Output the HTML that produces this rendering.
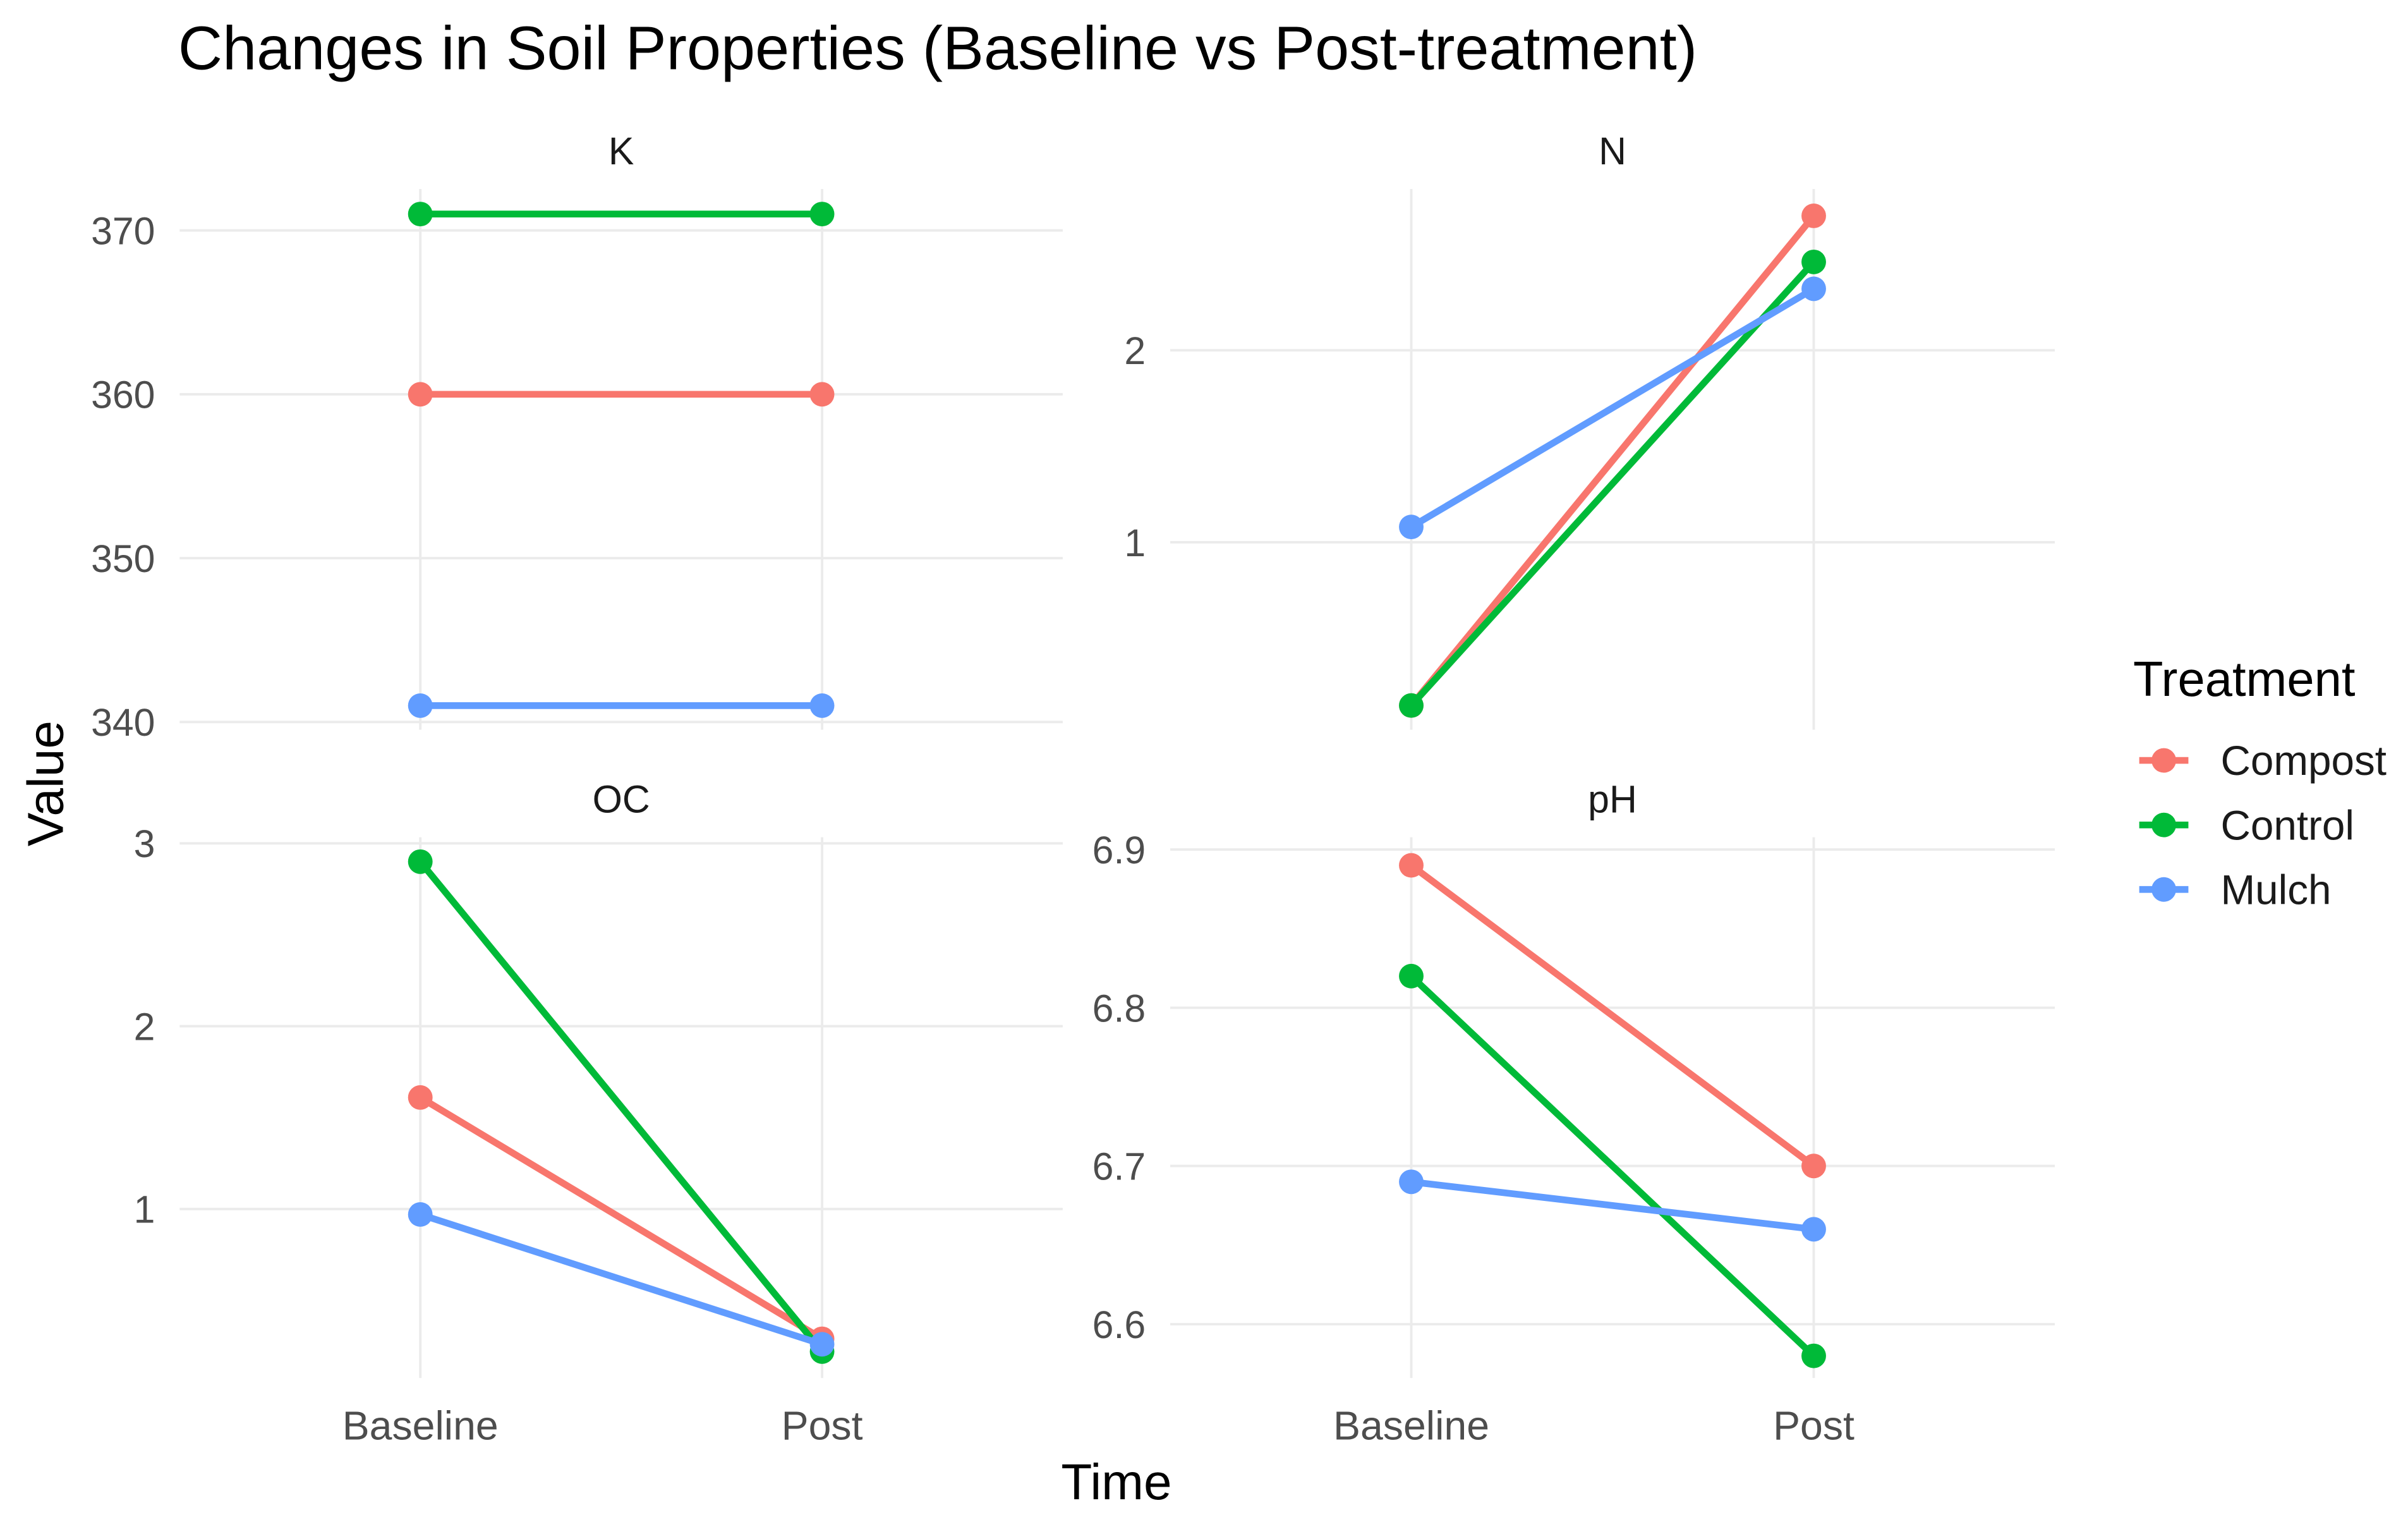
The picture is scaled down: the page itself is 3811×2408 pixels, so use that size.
<!DOCTYPE html>
<html><head><meta charset="utf-8"><style>
html,body{margin:0;padding:0;background:#fff;}
svg{display:block;font-family:"Liberation Sans",Arial,sans-serif;}
</style></head><body>
<svg id="chart" width="3811" height="2408" viewBox="0 0 1568 990.75" xmlns="http://www.w3.org/2000/svg">
<rect width="1568" height="991" fill="#fff"/>
<text x="116" y="45" font-size="40" fill="#000">Changes in Soil Properties (Baseline vs Post-treatment)</text>
<text x="727" y="976" font-size="33" text-anchor="middle" fill="#000">Time</text>
<text transform="translate(41,510) rotate(-90)" font-size="33" text-anchor="middle" fill="#000">Value</text>
<g id="panels"></g>
<g>
<text x="1389" y="453" font-size="32" fill="#000">Treatment</text>
<g id="legend-items"></g>
</g>
</svg>
<script>
const categories = ["Baseline", "Post"];
const treatments = ["Compost", "Control", "Mulch"];
const colors = ["#F8766D", "#00BA38", "#619CFF"];
const facets = ["K", "N", "OC", "pH"];
const kBaseline = [360, 371, 341];
const kPost = [360, 371, 341];
const nBaseline = [0.15, 0.15, 1.08];
const nPost = [2.70, 2.46, 2.32];
const ocBaseline = [1.61, 2.90, 0.97];
const ocPost = [0.29, 0.22, 0.26];
const phBaseline = [6.89, 6.82, 6.69];
const phPost = [6.70, 6.58, 6.66];
const kTicks = [340, 350, 360, 370];
const nTicks = [1, 2];
const ocTicks = [1, 2, 3];
const phTicks = [6.6, 6.7, 6.8, 6.9];

const NS = "http://www.w3.org/2000/svg";
function mk(tag, attrs, parent) {
  const e = document.createElementNS(NS, tag);
  for (const k in attrs) e.setAttribute(k, attrs[k]);
  parent.appendChild(e);
  return e;
}
const layout = [
  {x0:117,x1:692,y0:123,y1:475,ref:[370,150,340,470], ticks:kTicks, base:kBaseline, post:kPost, fmt:v=>String(v)},
  {x0:762,x1:1338,y0:123,y1:475,ref:[2,228,1,353], ticks:nTicks, base:nBaseline, post:nPost, fmt:v=>String(v)},
  {x0:117,x1:692,y0:545,y1:897,ref:[3,549,1,787], ticks:ocTicks, base:ocBaseline, post:ocPost, fmt:v=>String(v)},
  {x0:762,x1:1338,y0:545,y1:897,ref:[6.9,553,6.6,862], ticks:phTicks, base:phBaseline, post:phPost, fmt:v=>v.toFixed(1)}
];
const panels = document.getElementById('panels');
layout.forEach((p, i) => {
  const g = mk('g', {}, panels);
  
  
  const [v1, py1, v2, py2] = p.ref;
  const yScale = v => py1 + (v - v1) * (py2 - py1) / (v2 - v1);
  const w = p.x1 - p.x0;
  const xScale = c => p.x0 + w * (c === 0 ? 0.2725 : 0.7275);
  const step = p.ticks[1] - p.ticks[0];
  for (let t = p.ticks[0] - step * 1.5; t <= p.ticks[p.ticks.length - 1] + step * 1.5; t += step) {
    const y = yScale(t + step / 2);
    if (y >= p.y0 && y <= p.y1) {
      const l = mk('line', {x1:p.x0, x2:p.x1, y1:y, y2:y, stroke:'#f0f0f0', 'stroke-width':1}, g);
      
      
    }
  }
  p.ticks.forEach(t => {
    const y = yScale(t);
    const l = mk('line', {x1:p.x0, x2:p.x1, y1:y, y2:y, stroke:'#ebebeb', 'stroke-width':1.6}, g);
    
    
    const tx = mk('text', {x:p.x0 - 16, y:y + 9, 'font-size':25, fill:'#4d4d4d', 'text-anchor':'end'}, g);
    tx.textContent = p.fmt(t);
    
    
  });
  categories.forEach((c, ci) => {
    const x = xScale(ci);
    const l = mk('line', {x1:x, x2:x, y1:p.y0, y2:p.y1, stroke:'#ebebeb', 'stroke-width':1.6}, g);
    
    
    if (i >= 2) {
      const tx = mk('text', {x:x, y:937, 'font-size':26.5, fill:'#4d4d4d', 'text-anchor':'middle'}, g);
      tx.textContent = c;
      
      
    }
  });
  const st = mk('text', {x:(p.x0 + p.x1) / 2, y:p.y0 - 16, 'font-size':25, fill:'#1a1a1a', 'text-anchor':'middle'}, g);
  st.textContent = facets[i];
  
  
  treatments.forEach((tr, ti) => {
    const xa = xScale(0), xb = xScale(1), ya = yScale(p.base[ti]), yb = yScale(p.post[ti]);
    const ln = mk('line', {x1:xa, y1:ya, x2:xb, y2:yb, stroke:colors[ti], 'stroke-width':4.4}, g);
    
    
    [[xa, ya], [xb, yb]].forEach(pt => {
      const c = mk('circle', {cx:pt[0], cy:pt[1], r:8, fill:colors[ti]}, g);
      
      
    });
  });
});
const li = document.getElementById('legend-items');
treatments.forEach((tr, ti) => {
  const y = 495 + ti * 42;
  const g = mk('g', {}, li);
  
  
  mk('line', {x1:1393, x2:1425, y1:y, y2:y, stroke:colors[ti], 'stroke-width':4.4}, g);
  mk('circle', {cx:1409, cy:y, r:8, fill:colors[ti]}, g);
  const t = mk('text', {x:1446, y:y + 9.5, 'font-size':27, fill:'#1a1a1a'}, g);
  t.textContent = tr;
});
</script>
</body></html>
